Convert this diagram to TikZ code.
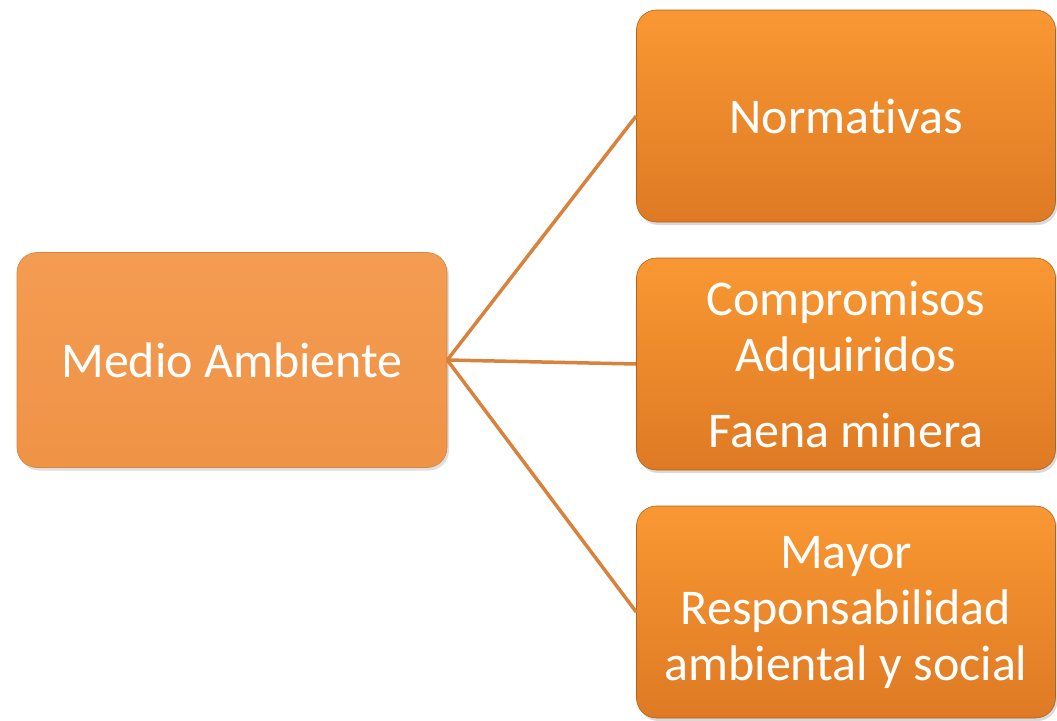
\documentclass[tikz,border=0pt]{standalone}
\usepackage{fontspec}
\setmainfont[Ligatures={NoCommon,NoContextual},RawFeature={-liga;-clig;-calt;-dlig}]{Carlito}
\usetikzlibrary{shadows}
\definecolor{lefttop}{HTML}{F49C52}
\definecolor{leftbot}{HTML}{EF9346}
\definecolor{boxtop}{HTML}{F99833}
\definecolor{boxbot}{HTML}{DE7A24}
\definecolor{linkcol}{HTML}{D7823D}
\tikzset{
  mainbox/.style={rounded corners=20pt, minimum width=430pt, minimum height=215pt,
    top color=lefttop, bottom color=leftbot, draw=leftbot!90!black, line width=0.6pt,
    text=white, font=\fontsize{50}{58}\selectfont, align=center,
    drop shadow={opacity=0.25, shadow xshift=2pt, shadow yshift=-3pt}},
  itembox/.style={rounded corners=20pt, minimum width=419pt, minimum height=212pt,
    top color=boxtop, bottom color=boxbot, draw=boxbot!80!black, line width=0.6pt,
    text=white, font=\fontsize{50}{56}\selectfont, align=center,
    drop shadow={opacity=0.3, shadow xshift=2pt, shadow yshift=-3pt}},
  link/.style={draw=linkcol, line width=3.5pt}
}
\begin{document}
\begin{tikzpicture}[x=1pt, y=-1pt]
    \useasboundingbox (0, 0) rectangle (1057, 720);
    \node[mainbox] (env) at (232, 360) {Medio Ambiente};
    \node[itembox] (norm) at (846, 116) {Normativas};
    \node[itembox] (comp) at (846, 364) {Compromisos\\Adquiridos\\[20pt]Faena minera};
    \node[itembox] (resp) at (846, 612) {Mayor\\Responsabilidad\\ambiental y social};
    \draw[link] (env.east) -- (norm.west);
    \draw[link] (env.east) -- (comp.west);
    \draw[link] (env.east) -- (resp.west);
    \end{tikzpicture}
\end{document}
